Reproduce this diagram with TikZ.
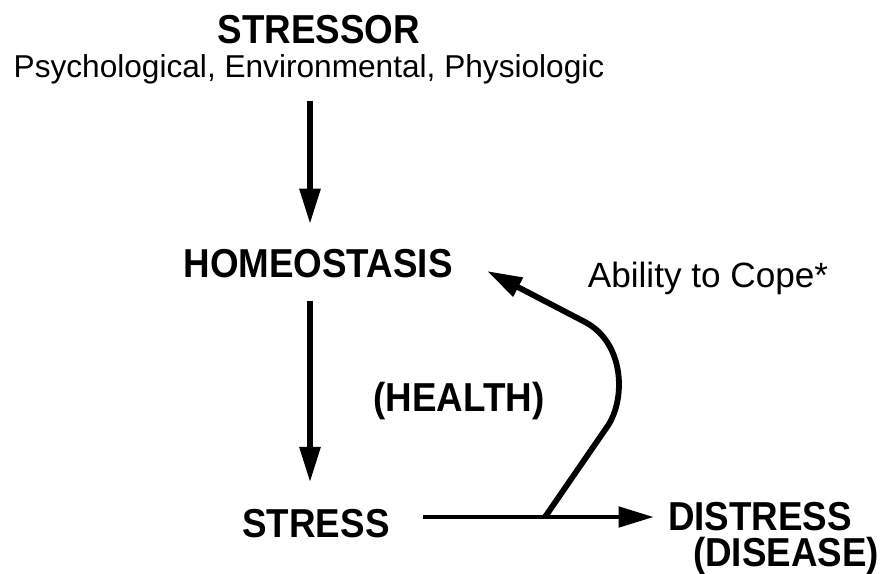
\documentclass[tikz,border=0pt]{standalone}
\usepackage{fontspec}
\setmainfont{Liberation Sans}
\newfontfamily\tallbold[FakeStretch=0.91]{Liberation Sans Bold}
\usetikzlibrary{arrows.meta}
\begin{document}
\begin{tikzpicture}[>={Triangle[length=20pt,width=11.5pt]}, x=0.02cm, y=-0.02cm,
  lab/.style={inner sep=0pt, anchor=base, font=\tallbold\fontsize{23}{27}\selectfont},
  thin lab/.style={inner sep=0pt, anchor=base, font=\fontsize{18}{22}\selectfont},
  arr/.style={->, line width=3pt}]
\useasboundingbox (0,0) rectangle (882,574);

\node[lab](stressor) at (319,44){STRESSOR};
\node[thin lab](psych) at (309,78){Psychological, Environmental, Physiologic};
\node[lab](home) at (318,277){HOMEOSTASIS};
\node[lab](health) at (459,411){(HEALTH)};
\node[thin lab, font=\fontsize{20}{24}\selectfont](cope) at (708,287){Ability to Cope*};
\node[lab](stress) at (316,537){STRESS};
\node[lab](distress) at (760,530){DISTRESS};
\node[lab](disease) at (786,566){(DISEASE)};

\coordinate (spine) at (310,0);
\coordinate (rail) at (0,517);
\coordinate (fork) at (545,517);
\coordinate (copetip) at (487,271);

\draw[arr, shorten <=9pt, shorten >=14pt](psych.south -| spine)--(home.north -| spine);
\draw[arr, shorten <=13pt, shorten >=15pt](home.south -| spine)--(stress.north -| spine);
\draw[arr, line width=2.5pt, shorten <=19pt, shorten >=8pt](stress.east |- rail)--(distress.west |- rail);
\draw[arr, line width=3.3pt](fork)--(607,427) .. controls (626,400) and (625,343) .. (585,322)--(copetip);

\end{tikzpicture}
\end{document}
